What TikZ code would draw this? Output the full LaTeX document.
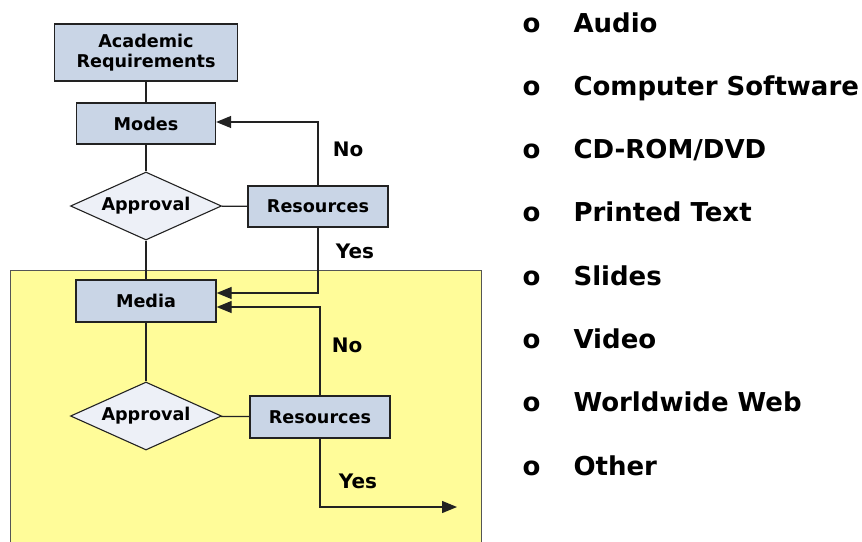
\documentclass[tikz,border=0pt]{standalone}
\usepackage{fontspec}
\setmainfont{DejaVu Sans}
\usetikzlibrary{positioning,calc,arrows.meta,shapes.geometric}
\definecolor{ink}{HTML}{222222}
\definecolor{boxblue}{HTML}{C9D5E6}
\definecolor{pale}{HTML}{EDF0F7}
\definecolor{pad}{HTML}{FFFC99}
\definecolor{rim}{HTML}{555555}

\begin{document}
\begin{tikzpicture}[x=1pt,y=-1pt,
        blk/.style={rectangle,draw=ink,fill=boxblue,line width=1.3pt,inner sep=0pt,
          font=\bfseries\fontsize{17.6}{20}\selectfont,align=center},
        dec/.style={diamond,draw=ink,fill=pale,line width=1.1pt,inner sep=0pt,aspect=2.2,
          minimum width=151pt,minimum height=68pt,font=\bfseries\fontsize{17.6}{20}\selectfont},
        ln/.style={ink,line width=1.3pt},
        arr/.style={ln,-{Triangle[length=15pt,width=12pt]}},
        lbl/.style={font=\bfseries\fontsize{20}{22}\selectfont},
        item/.style={anchor=base west,font=\bfseries\fontsize{26}{28}\selectfont}]
        \useasboundingbox (0,0) rectangle (862,541);
        % yellow panel
        \draw[draw=rim,fill=pad,line width=1pt] (10,270) rectangle (481,550);
        \node[blk,minimum width=183pt,minimum height=57pt] (acad) at (146,52.5) {Academic\\Requirements};
        \node[blk,minimum width=139pt,minimum height=41pt] (modes) at (146,123.5) {Modes};
        \node[dec] (appr1) at (146,206) {Approval};
        \node[blk,minimum width=140pt,minimum height=41pt] (res1) at (318,206.5) {Resources};
        \node[blk,minimum width=140pt,minimum height=42pt] (media) at (146,301) {Media};
        \node[dec] (appr2) at (146,416) {Approval};
        \node[blk,minimum width=140pt,minimum height=42pt] (res2) at (320,417) {Resources};
        \coordinate (out) at (457,507);
        \draw[ln] (acad) -- (modes);
        \draw[ln] (modes) -- (appr1);
        \draw[ln] (appr1) -- (res1);
        \draw[ln] (appr1) -- (appr1 |- media.north);
        \draw[ln] (media) -- (appr2);
        \draw[ln] (appr2) -- (res2);
        \draw[arr] (res1.north) |- ($(modes.east)+(0,-1.5)$);
        \draw[arr] (res1.south) |- ($(media.east)+(0,-8)$);
        \draw[arr] (res2.north) |- ($(media.east)+(0,6)$);
        \draw[arr] (res2.south) |- (out);
        \node[lbl] (no1) at (348,149) {No};
        \node[lbl] (yes1) at (355,251) {Yes};
        \node[lbl] (no2) at (347,345) {No};
        \node[lbl] (yes2) at (358,481) {Yes};
        % media list
        \foreach \txt [count=\k] in {Audio,Computer Software,CD-ROM/DVD,Printed Text,Slides,Video,Worldwide Web,Other} {
          \node[item] (bul\k) at (519,{32+63.3*(\k-1)}) {o};
          \node[item] (itm\k) at (570,{32+63.3*(\k-1)}) {\txt};
        }
      \end{tikzpicture}
\end{document}
